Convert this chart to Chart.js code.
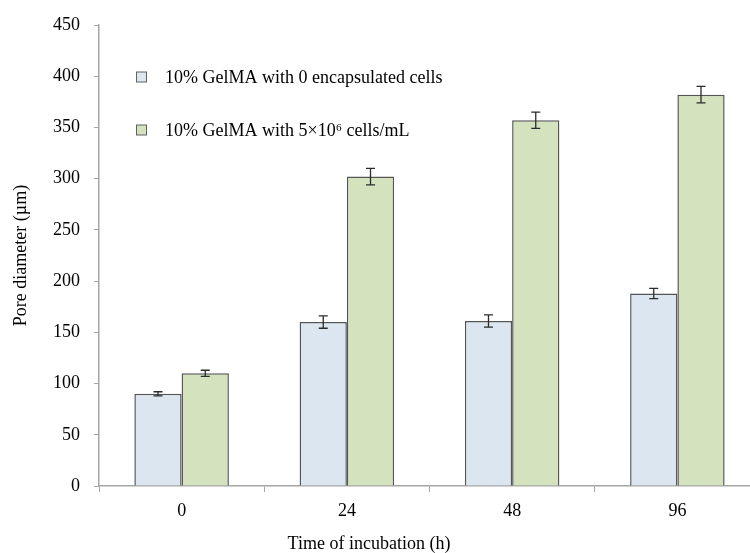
<!DOCTYPE html>
<html>
<head>
<meta charset="utf-8">
<title>Pore diameter vs incubation time</title>
<script src="https://cdn.jsdelivr.net/npm/chart.js@4.4.1/dist/chart.umd.min.js"></script>
<style>
  html, body { margin: 0; padding: 0; background: #fff; overflow: hidden; }
  #chart { display: block; }
</style>
</head>
<body>
<canvas id="chart" width="762" height="553"></canvas>
<script>
// Data
const categories = ['0', '24', '48', '96'];
const seriesLabels = ['10% GelMA with 0 encapsulated cells', '10% GelMA with 5×10⁶ cells/mL'];
const noCellValues = [90, 160, 161, 188];
const noCellErrors = [2, 6, 6, 5];
const cellValues = [110, 302, 357, 382];
const cellErrors = [3, 8, 8, 8];
const yMax = 450;
const yStep = 50;
const xTitle = 'Time of incubation (h)';
const yTitle = 'Pore diameter (µm)';

const serif = "'Liberation Serif', 'Times New Roman', serif";
const axisGray = '#a6a6a6';
const errors = [noCellErrors, cellErrors];

// Error bars, drawn on top of the bars
const errorBarPlugin = {
  id: 'errorBars',
  afterDatasetsDraw(chart) {
    const ctx = chart.ctx;
    const yScale = chart.scales.y;
    ctx.save();
    ctx.strokeStyle = '#2b2b2b';
    ctx.lineWidth = 1.3;
    chart.data.datasets.forEach((ds, i) => {
      const meta = chart.getDatasetMeta(i);
      meta.data.forEach((bar, j) => {
        const v = ds.data[j];
        const e = errors[i][j];
        const yHi = yScale.getPixelForValue(v + e);
        const yLo = yScale.getPixelForValue(v - e);
        const x = bar.x;
        ctx.beginPath();
        ctx.moveTo(x, yHi);
        ctx.lineTo(x, yLo);
        ctx.moveTo(x - 4.5, yHi);
        ctx.lineTo(x + 4.5, yHi);
        ctx.moveTo(x - 4.5, yLo);
        ctx.lineTo(x + 4.5, yLo);
        ctx.stroke();
      });
    });
    ctx.restore();
  }
};

// Legend inside the plot area, plus the x axis title
const legendPlugin = {
  id: 'insideLegend',
  afterDraw(chart) {
    const ctx = chart.ctx;
    ctx.save();
    ctx.font = '18px ' + serif;
    ctx.textBaseline = 'middle';
    const rows = [77, 130];
    chart.data.datasets.forEach((ds, i) => {
      const y = rows[i];
      ctx.fillStyle = ds.backgroundColor;
      ctx.fillRect(136.5, y - 5, 10, 10);
      ctx.strokeStyle = '#606060';
      ctx.lineWidth = 1;
      ctx.strokeRect(136.5, y - 5, 10, 10);
      ctx.fillStyle = '#000';
      ctx.textAlign = 'left';
      ctx.fillText(ds.label, 165, y + 1);
    });
    ctx.textAlign = 'center';
    ctx.fillText(xTitle, 369, 544);
    ctx.restore();
  }
};

new Chart(document.getElementById('chart'), {
  type: 'bar',
  data: {
    labels: categories,
    datasets: [
      {
        label: seriesLabels[0],
        data: noCellValues,
        backgroundColor: '#dbe6f1',
        borderColor: '#555555',
        borderWidth: 1.5,
        categoryPercentage: 0.572,
        barPercentage: 1.0
      },
      {
        label: seriesLabels[1],
        data: cellValues,
        backgroundColor: '#d4e2bd',
        borderColor: '#555555',
        borderWidth: 1.5,
        categoryPercentage: 0.572,
        barPercentage: 1.0
      }
    ]
  },
  options: {
    responsive: false,
    animation: false,
    layout: { padding: { top: 25, right: 2, left: 0, bottom: 0 } },
    plugins: {
      legend: { display: false },
      tooltip: { enabled: false }
    },
    scales: {
      x: {
        afterFit: scale => { scale.height = 67; },
        grid: {
          offset: true,
          drawOnChartArea: false,
          tickLength: 6,
          color: axisGray
        },
        border: { color: axisGray, width: 1.5 },
        ticks: {
          color: '#000',
          padding: 8,
          font: { family: serif, size: 18 }
        }
      },
      y: {
        min: 0,
        max: yMax,
        afterFit: scale => { scale.width = 99; },
        grid: {
          drawOnChartArea: false,
          tickLength: 5,
          color: axisGray
        },
        border: { color: axisGray, width: 1.5 },
        ticks: {
          stepSize: yStep,
          color: '#000',
          padding: 14,
          font: { family: serif, size: 18 }
        },
        title: {
          display: true,
          text: yTitle,
          color: '#000',
          padding: { top: 10, bottom: 0 },
          font: { family: serif, size: 18 }
        }
      }
    }
  },
  plugins: [errorBarPlugin, legendPlugin]
});
</script>
</body>
</html>
